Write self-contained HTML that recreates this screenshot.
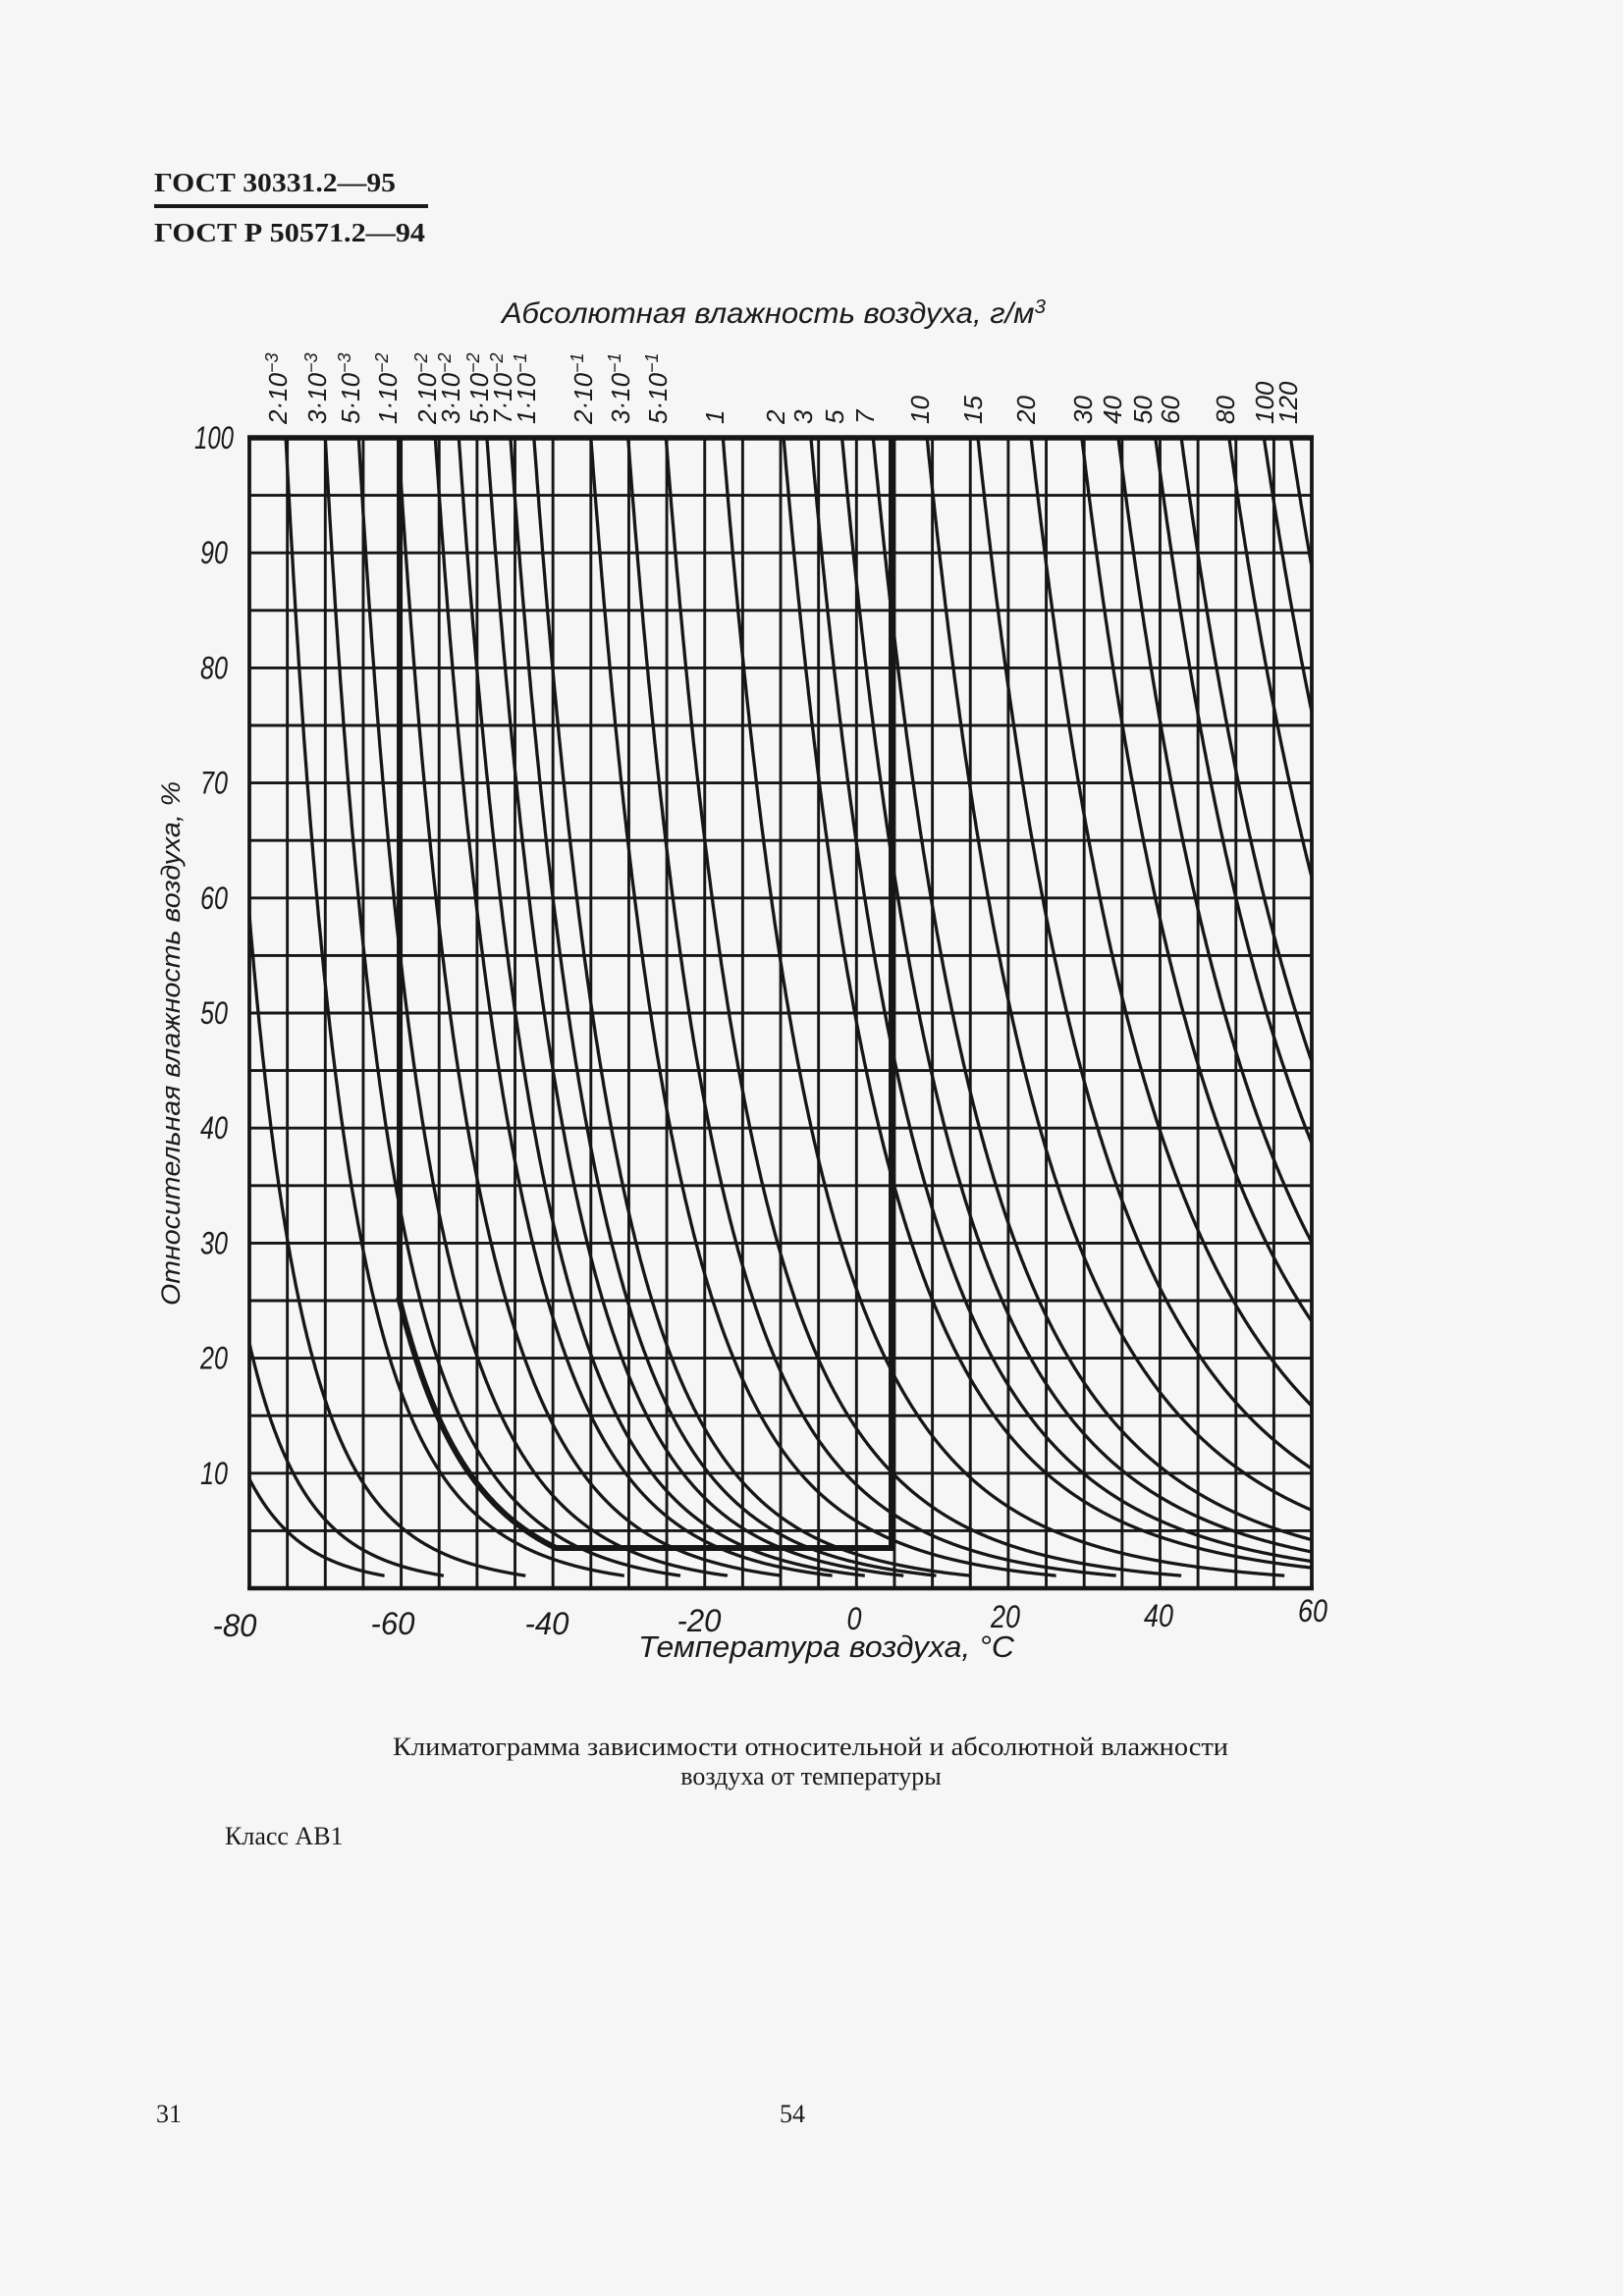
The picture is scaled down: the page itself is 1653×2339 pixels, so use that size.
<!DOCTYPE html>
<html><head><meta charset="utf-8">
<style>
html,body{margin:0;padding:0;background:#f6f6f6;}
svg{display:block;}
.hd{font-family:"Liberation Serif","Noto Serif CJK SC",serif;font-weight:bold;font-size:27px;fill:#1a1a1a;}
.sr{font-family:"Liberation Serif","Noto Serif CJK SC",serif;font-size:26px;fill:#1a1a1a;}
.it{font-family:"Liberation Sans","DejaVu Sans",sans-serif;font-style:italic;fill:#1a1a1a;}
</style></head><body>
<svg id="s" width="1653" height="2339" viewBox="0 0 1653 2339" xmlns="http://www.w3.org/2000/svg">
<rect width="1653" height="2339" fill="#f6f6f6"/>
<text class="hd" x="157" y="195" textLength="246" lengthAdjust="spacingAndGlyphs">ГОСТ 30331.2—95</text>
<rect x="157" y="208" width="279" height="4" fill="#1a1a1a"/>
<text class="hd" x="157" y="246" textLength="276" lengthAdjust="spacingAndGlyphs">ГОСТ Р 50571.2—94</text>

<text class="it" x="511" y="329" font-size="30" textLength="554" lengthAdjust="spacingAndGlyphs">Абсолютная влажность воздуха, г/м<tspan dy="-10" font-size="20">3</tspan></text>

<g id="grid"></g>
<g id="curves"></g>
<g id="labels"></g>

<text class="it" font-size="27" transform="translate(183,1063) rotate(-90)" text-anchor="middle" textLength="534" lengthAdjust="spacingAndGlyphs">Относительная влажность воздуха, %</text>

<text class="it" x="650" y="1688" font-size="31" textLength="383" lengthAdjust="spacingAndGlyphs">Температура воздуха, °С</text>

<text class="sr" x="400" y="1788" textLength="851" lengthAdjust="spacingAndGlyphs">Климатограмма зависимости относительной и абсолютной влажности</text>
<text class="sr" x="826" y="1818" text-anchor="middle">воздуха от температуры</text>
<text class="sr" x="229" y="1879">Класс АВ1</text>
<text class="sr" x="159" y="2162">31</text>
<text class="sr" x="794" y="2162">54</text>
</svg>
<script>
(function(){
var NS="http://www.w3.org/2000/svg";
function el(t,a,p){var e=document.createElementNS(NS,t);for(var k in a)e.setAttribute(k,a[k]);(p||document.getElementById('s')).appendChild(e);return e;}
function px(T){return 254+(T+80)*7.729;}
function py(R){return 1618-R*11.72;}
var C="#161616";
var g=document.getElementById('grid');
for(var T=-80;T<=60;T+=5){el('line',{x1:px(T),y1:446,x2:px(T),y2:1618,stroke:C,'stroke-width':2.9},g);}
for(var R=0;R<=100;R+=5){el('line',{x1:254,y1:py(R),x2:1336,y2:py(R),stroke:C,'stroke-width':2.9},g);}
el('rect',{x:254,y:446,width:1082,height:1172,fill:'none',stroke:C,'stroke-width':3.8},g);
el('line',{x1:252,y1:446,x2:1338,y2:446,stroke:C,'stroke-width':5.5},g);
el('line',{x1:252,y1:1618,x2:1338,y2:1618,stroke:C,'stroke-width':4.5},g);
var bt=[[-100,0.16],[-80,0.135],[-70,0.12],[-60,0.105],[-50,0.093],[-30,0.088],[-10,0.078],[0,0.07],[20,0.06],[40,0.05],[60,0.042],[70,0.04]];
function b(T){for(var i=0;i<bt.length-1;i++){if(T<=bt[i+1][0]){var f=(T-bt[i][0])/(bt[i+1][0]-bt[i][0]);return bt[i][1]+f*(bt[i+1][1]-bt[i][1]);}}return 0.04;}
var st=0.05,acc=0;var Larr=[];
for(var k=0;k<=3400;k++){var t=-100+k*st;Larr.push(acc);acc+=b(t+st/2)*st;}
function L(T){var k=(T+100)/st;var i=Math.floor(k);var f=k-i;if(i>=Larr.length-1)return Larr[Larr.length-1];return Larr[i]+f*(Larr[i+1]-Larr[i]);}
var cg=document.getElementById('curves');
function curve(T0,R0,w,Tstart,Rend,Tend){
  var d="";var first=true;
  Tstart=(Tstart===undefined)?T0:Tstart;Rend=Rend||1.1;Tend=(Tend===undefined)?60:Tend;
  for(var T=Tstart;T<=Tend+0.001;T+=0.1){
    var R=R0*Math.exp(-(L(T)-L(T0)));
    if(R>100)continue;
    d+=(first?"M":"L")+px(T).toFixed(1)+","+py(R).toFixed(1);first=false;
    if(R<Rend)break;
  }
  el('path',{d:d,fill:'none',stroke:C,'stroke-width':w,'stroke-linejoin':'round'},cg);
}
var T0s=[-75.2,-70.0,-65.6,-60.4,-55.5,-52.4,-48.7,-45.6,-42.5,-35.0,-30.1,-25.1,-17.6,-9.6,-6.0,-1.9,2.2,9.3,16.0,23.0,29.7,34.5,39.4,42.8,49.1,53.7,57.2];
T0s.forEach(function(t){curve(t,100,3.3);});
[58.5,21.3,9.5].forEach(function(r){curve(-80,r,3.3,-80);});
var rEnd=3.5;
var d="M"+px(-60.2)+",446 L"+px(-60.2)+","+py(25).toFixed(1);
var Tx=-60.2;
for(var T=-60.2;T<=0;T+=0.1){var R=25*Math.exp(-(L(T)-L(-60.2)));if(R<rEnd){Tx=T;break;}d+=" L"+px(T).toFixed(1)+","+py(R).toFixed(1);}
d+=" L"+px(Tx).toFixed(1)+","+py(rEnd).toFixed(1)+" L908,"+py(rEnd).toFixed(1)+" L908,446";
el('path',{d:d,fill:'none',stroke:C,'stroke-width':6,'stroke-linejoin':'miter'},cg);
var lg=document.getElementById('labels');
function txt(s,a,p){var e=el('text',a,p||lg);e.setAttribute('class','it');e.textContent=s;return e;}
var yl=[100,90,80,70,60,50,40,30,20,10];
yl.forEach(function(v){var w=v==100?40:28;txt(String(v),{x:218,y:(py(v)+11).toFixed(1),'font-size':32,'text-anchor':'middle',textLength:w,lengthAdjust:'spacingAndGlyphs'});});
var xl=[[-80,239,1667],[-60,400,1665],[-40,557,1665],[-20,712,1662],[0,870,1660],[20,1024,1658],[40,1180,1657],[60,1337,1652]];
xl.forEach(function(a){var s=a[0]<0?"-"+(-a[0]):String(a[0]);txt(s,{x:a[1],y:a[2],'font-size':32,'text-anchor':'middle',textLength:(s.length*15),lengthAdjust:'spacingAndGlyphs'});});
var tl=[["2·10","−3",283],["3·10","−3",323],["5·10","−3",357],["1·10","−2",395],["2·10","−2",435],["3·10","−2",459],["5·10","−2",488],["7·10","−2",512],["1·10","−1",536],["2·10","−1",594],["3·10","−1",632],["5·10","−1",670],["1","",728],["2","",790],["3","",818],["5","",850],["7","",881],["10","",937],["15","",991],["20","",1045],["30","",1103],["40","",1133],["50","",1164],["60","",1192],["80","",1248],["100","",1288],["120","",1312]];
tl.forEach(function(a){
  var e=el('text',{transform:'translate('+(a[2]+9)+',432) rotate(-90)','font-size':26},lg);
  e.setAttribute('class','it');
  e.appendChild(document.createTextNode(a[0]));
  if(a[1]){var ts=el('tspan',{dy:-9,'font-size':18},e);ts.textContent=a[1];}
});
})();
</script>
</body></html>
